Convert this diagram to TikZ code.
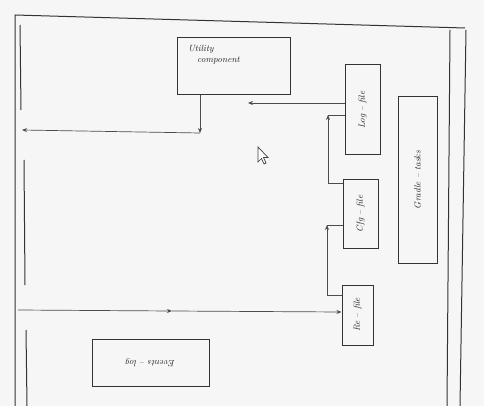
\documentclass[tikz,border=0pt]{standalone}
\usetikzlibrary{arrows.meta}
\begin{document}
\begin{tikzpicture}[x=1pt,y=-1pt,
  pen/.style={draw=black!80, line width=1pt},
  thin pen/.style={draw=black!70, line width=0.7pt},
  box/.style={pen, fill=none, inner sep=0pt},
  lbl/.style={font=\itshape\small, text=black!85},
  tip/.style={-{Stealth[length=5pt,width=4pt]}}]
% background
\fill[gray!7] (0,0) rectangle (484,406);
\useasboundingbox (0,0) rectangle (484,406);
% outer frame
\draw[pen] (15,406) -- (15,15) -- (465,28);
\draw[pen] (450,30) -- (447,406);
\draw[pen] (466,30) -- (460,406);
\draw[pen] (20,25) -- (21,110);
\draw[pen] (24,160) -- (25,285);
\draw[pen] (26,330) -- (27,406);
% boxes
\node[box, minimum width=113pt, minimum height=57pt] (comp) at (233.5,66.5) {};
\node[lbl, align=left, anchor=north west] (comptxt) at (comp.north west) [xshift=8pt,yshift=-4pt] {Utility\\\quad component};
\node[box, minimum width=35pt, minimum height=90pt] (b1) at (362.5,110) {};
\node[lbl, rotate=90] (b1t) at (b1.center) {Log -- file};
\node[box, minimum width=35pt, minimum height=68pt] (b2) at (360.5,214) {};
\node[lbl, rotate=90] (b2t) at (b2.center) {Cfg -- file};
\node[box, minimum width=31pt, minimum height=60pt] (b3) at (357.5,315) {};
\node[lbl, rotate=90] (b3t) at (b3.center) {Re -- file};
\node[box, minimum width=39pt, minimum height=166pt] (tall) at (417.5,180) {};
\node[lbl, rotate=90] (tallt) at (tall.center) {Gradle -- tasks};
\node[box, minimum width=117pt, minimum height=47pt] (ev) at (150.5,362.5) {};
\node[lbl, rotate=180] (evt) at (ev.center) {Events -- log};
% coordinates
\coordinate (c1) at (200,133);
\coordinate (lft) at (22,130);
\coordinate (a1) at (248,103);
\coordinate (v1) at (328,115);
\coordinate (v2) at (327,225);
\coordinate (lb) at (18,310);
\coordinate (mid) at (172,311);
% connectors
\draw[thin pen, tip] (comp.south west -| c1) -- (c1);
\draw[thin pen, tip] (c1) -- (lft);
\draw[thin pen, tip] (b1.west |- a1) -- (a1);
\draw[thin pen, tip] (b2.west |- 0,183) -| (v1);
\draw[thin pen] (v1) -- (b1.west |- v1);
\draw[thin pen, tip] (b3.west |- 0,295) -| (v2);
\draw[thin pen] (v2) -- (b2.west |- v2);
\draw[thin pen, tip] (lb) -- (mid);
\draw[thin pen, tip] (mid) -- (b3.west |- 0,312);
% mouse cursor
\draw[black!75, line width=0.7pt, fill=white] (258,147) -- (258,162) -- (261.5,158.5) -- (264,164) -- (266,163) -- (263.5,157.5) -- (268,157.5) -- cycle;
\end{tikzpicture}
\end{document}
